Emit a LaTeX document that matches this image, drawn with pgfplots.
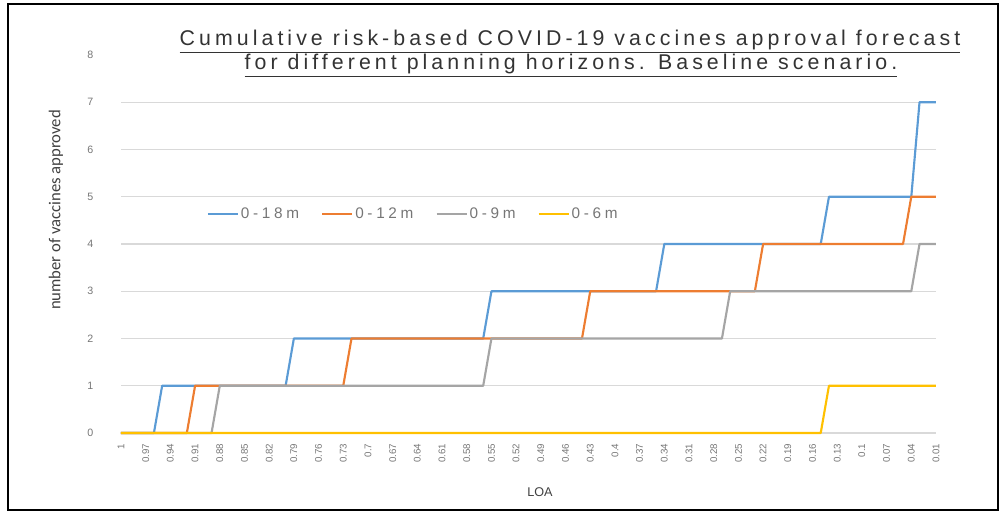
\documentclass[border=0pt]{standalone}
\usepackage{fontspec}
\setmainfont{Liberation Sans}
\newfontfamily\titlefont[LetterSpace=19]{Liberation Sans}
\newfontfamily\legfont[LetterSpace=24]{Liberation Sans}
\newfontfamily\ylabfont{Carlito}
\usepackage{pgfplots}
\pgfplotsset{compat=1.18}
\definecolor{cA}{HTML}{5B9BD5}
\definecolor{cB}{HTML}{ED7D31}
\definecolor{cC}{HTML}{A5A5A5}
\definecolor{cD}{HTML}{FFC000}
\definecolor{tickgray}{HTML}{767676}
\definecolor{gridgray}{HTML}{D9D9D9}
\begin{document}
\begin{tikzpicture}
\path[use as bounding box] (0pt,0pt) rectangle (750.75pt,384.75pt);
\draw[black, line width=1.2pt] (6pt,2.25pt) rectangle (748.5pt,381.75pt);
\begin{axis}[
  at={(90.75pt,60pt)}, anchor=south west,
  scale only axis, width=611.25pt, height=283.5pt,
  xmin=0.01, xmax=1, x dir=reverse,
  ymin=0, ymax=8,
  axis line style={draw=none},
  major tick length=0pt,
  xtick={1,0.97,0.94,0.91,0.88,0.85,0.82,0.79,0.76,0.73,0.7,0.67,0.64,0.61,0.58,0.55,0.52,0.49,0.46,0.43,0.4,0.37,0.34,0.31,0.28,0.25,0.22,0.19,0.16,0.13,0.1,0.07,0.04,0.01},
  xticklabels={1,0.97,0.94,0.91,0.88,0.85,0.82,0.79,0.76,0.73,0.7,0.67,0.64,0.61,0.58,0.55,0.52,0.49,0.46,0.43,0.4,0.37,0.34,0.31,0.28,0.25,0.22,0.19,0.16,0.13,0.1,0.07,0.04,0.01},
  xticklabel style={rotate=90, anchor=east, font=\fontsize{7.3}{8}\selectfont, text=tickgray},
  xticklabel shift=4.5pt,
  ytick={0,...,8},
  yticklabel style={font=\fontsize{8}{9}\selectfont, text=tickgray, anchor=center, xshift=-23pt},
  extra y ticks={0,...,7},
  extra y tick labels={},
  extra y tick style={grid=major, major grid style={gridgray, line width=0.8pt}},
  /pgf/number format/assume math mode=true,
  legend style={at={(0.105,0.579)}, anchor=west, draw=none, fill=none,
    font=\legfont\fontsize{11.5}{13}\selectfont, text=tickgray, inner sep=0pt,
    nodes={inner xsep=1.5pt},
    /tikz/every even column/.append style={column sep=15pt}},
  legend columns=4,
  legend image code/.code={\draw[#1] (0pt,0pt) -- (22.5pt,0pt);},
  every axis plot/.append style={line width=1.6pt, line join=round},
  clip=false,
]
\addplot[cA] coordinates {(1,0) (0.96,0) (0.95,1) (0.80,1) (0.79,2) (0.56,2) (0.55,3) (0.35,3) (0.34,4) (0.15,4) (0.14,5) (0.04,5) (0.03,7) (0.01,7)};
\addlegendentry{0-18m}
\addplot[cB] coordinates {(1,0) (0.92,0) (0.91,1) (0.73,1) (0.72,2) (0.44,2) (0.43,3) (0.23,3) (0.22,4) (0.05,4) (0.04,5) (0.01,5)};
\addlegendentry{0-12m}
\addplot[cC] coordinates {(1,0) (0.89,0) (0.88,1) (0.56,1) (0.55,2) (0.27,2) (0.26,3) (0.04,3) (0.03,4) (0.01,4)};
\addlegendentry{0-9m}
\addplot[cD] coordinates {(1,0) (0.15,0) (0.14,1) (0.01,1)};
\addlegendentry{0-6m}
\end{axis}
\node[anchor=base, inner sep=0pt, text=black!80, font=\titlefont\fontsize{16}{18}\selectfont] at (427.5pt,350.25pt) {\underline{Cumulative risk-based COVID-19 vaccines approval forecast}};
\node[anchor=base, inner sep=0pt, text=black!80, font=\titlefont\fontsize{16}{18}\selectfont] at (428.25pt,332.25pt) {\underline{for different planning horizons. Baseline scenario.}};
\node[rotate=90, inner sep=0pt, text=black!75, font=\ylabfont\fontsize{12.5}{14}\selectfont] at (42pt,227.25pt) {number of vaccines approved};
\node[inner sep=0pt, text=black!75, font=\fontsize{9.5}{11}\selectfont] at (405pt,15.75pt) {LOA};
\end{tikzpicture}
\end{document}
